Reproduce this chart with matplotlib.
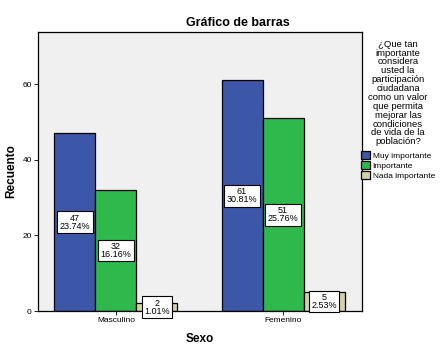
import matplotlib.pyplot as plt
import numpy as np

plt.rcParams["font.family"] = ["Liberation Sans", "DejaVu Sans"]

sexo = ["Masculino", "Femenino"]
respuestas = ["Muy importante", "Importante", "Nada importante"]
recuento = [[47, 61], [32, 51], [2, 5]]
porcentaje = [["23.74%", "30.81%"], ["16.16%", "25.76%"], ["1.01%", "2.53%"]]
colores = ["#3c57a8", "#2fb84c", "#d7d2a6"]

fig = plt.figure(figsize=(4.43, 3.48), dpi=100)
ax = fig.add_axes([38 / 443, 1 - 311 / 348, 324 / 443, 279 / 348])
ax.set_facecolor("#f0f0f0")

x = np.arange(len(sexo))
w = 0.2455
handles = []
for i, resp in enumerate(respuestas):
    pos = x + (i - 1) * w
    b = ax.bar(pos, recuento[i], w, color=colores[i], edgecolor="black",
               linewidth=0.9, label=resp, zorder=2)
    handles.append(b)
    for px, val, pct in zip(pos, recuento[i], porcentaje[i]):
        ax.text(px, val / 2, f"{val}\n{pct}", ha="center", va="center",
                fontsize=6.5, linespacing=0.9, zorder=4,
                bbox=dict(boxstyle="square,pad=0.25", fc="white", ec="black", lw=0.8))

ax.set_xlim(-0.467, 1.473)
ax.set_ylim(0, 73.8)
ax.set_yticks([0, 20, 40, 60])
ax.set_xticks(x)
ax.set_xticklabels(sexo)
ax.tick_params(labelsize=6, length=3, width=0.6, pad=1.5)
for s in ax.spines.values():
    s.set_linewidth(0.9)

ax.set_ylabel("Recuento", fontsize=8.5, fontweight="bold", labelpad=4)
ax.set_xlabel("Sexo", fontsize=8.5, fontweight="bold", labelpad=6)
fig.text(238 / 443, 1 - 23 / 348, "Gráfico de barras", ha="center", va="center",
         fontsize=9, fontweight="bold")

fig.text(398 / 443, 1 - 93 / 348,
         "¿Que tan\nimportante\nconsidera\nusted la\nparticipación\nciudadana\ncomo un valor\nque permita\nmejorar las\ncondiciones\nde vida de la\npoblación?",
         ha="center", va="center", fontsize=6.8, linespacing=0.98)
fig.legend(handles=handles, labels=respuestas, loc="upper left",
           bbox_to_anchor=(361 / 443, 1 - 151 / 348), frameon=False,
           fontsize=6, handlelength=1.1, handleheight=1.1, handletextpad=0.3,
           labelspacing=0.15, borderpad=0, borderaxespad=0)

fig.savefig("out.png", dpi=100)
